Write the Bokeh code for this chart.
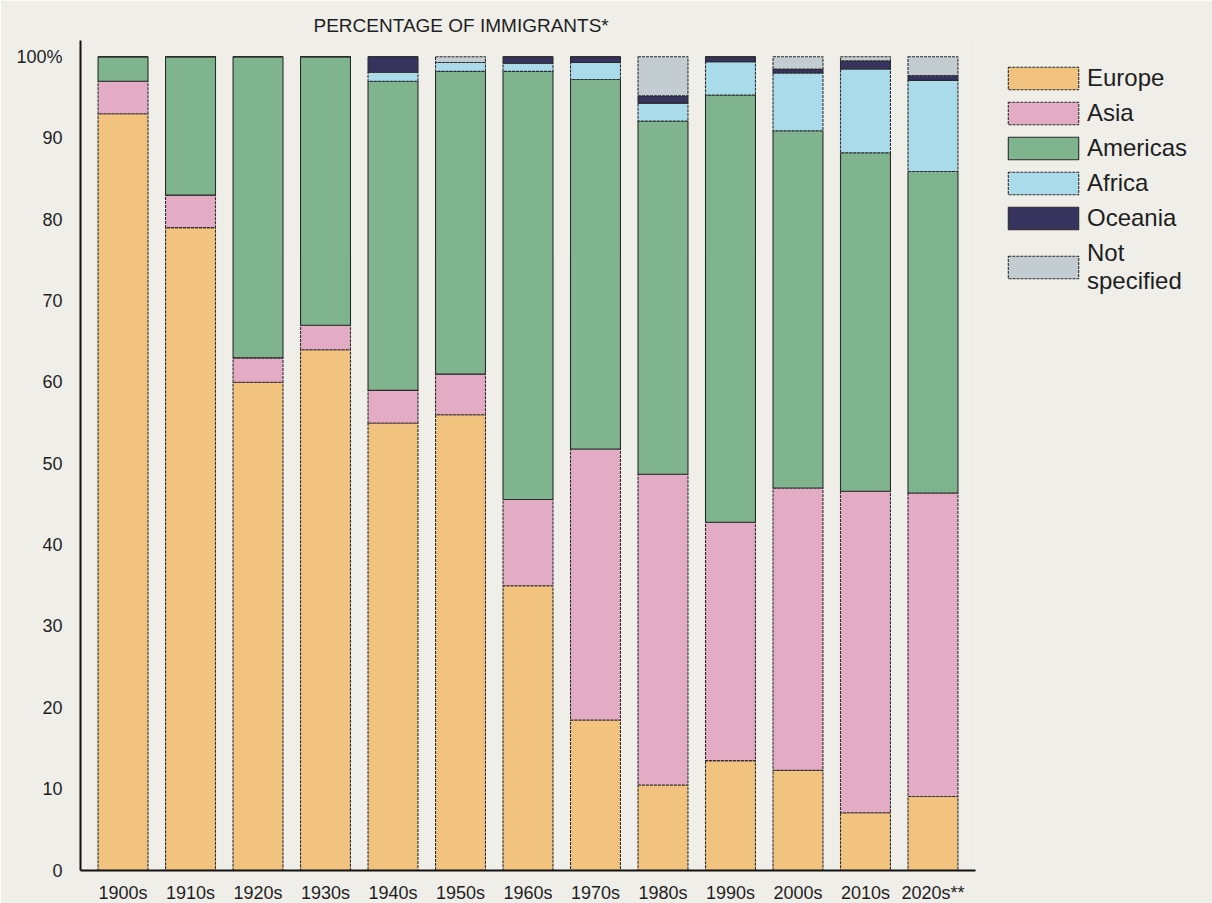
from bokeh.plotting import figure
from bokeh.models import ColumnDataSource, FactorRange, Legend, LegendItem, FixedTicker
from bokeh.transform import stack
from bokeh.embed import file_html
from bokeh.resources import INLINE

decades = ["1900s", "1910s", "1920s", "1930s", "1940s", "1950s", "1960s",
           "1970s", "1980s", "1990s", "2000s", "2010s", "2020s**"]
europe   = [93.0, 79.0, 60.0, 64.0, 55.0, 56.0, 35.0, 18.5, 10.5, 13.5, 12.3, 7.1, 9.1]
asia     = [4.0, 4.0, 3.0, 3.0, 4.0, 5.0, 10.6, 33.3, 38.2, 29.3, 34.7, 39.5, 37.3]
americas = [3.0, 17.0, 37.0, 33.0, 38.0, 37.2, 52.6, 45.4, 43.4, 52.5, 43.9, 41.6, 39.5]
africa   = [0.0, 0.0, 0.0, 0.0, 1.1, 1.1, 1.0, 2.1, 2.2, 4.1, 7.1, 10.3, 11.2]
oceania  = [0.0, 0.0, 0.0, 0.0, 1.9, 0.0, 0.8, 0.7, 0.9, 0.6, 0.5, 1.0, 0.6]
not_spec = [0.0, 0.0, 0.0, 0.0, 0.0, 0.7, 0.0, 0.0, 4.8, 0.0, 1.5, 0.5, 2.3]

series = ["Europe", "Asia", "Americas", "Africa", "Oceania", "Not specified"]
labels = ["Europe", "Asia", "Americas", "Africa", "Oceania", "Not\nspecified"]
colors = ["#f2c27f", "#e4abc5", "#7fb48e", "#a9dbea", "#37335f", "#c3ccd1"]
dashes = ["3 1", "3 1", "solid", "3 1", "solid", "3 1"]

y_ticks = [0, 10, 20, 30, 40, 50, 60, 70, 80, 90, 100]
y_tick_labels = ["0", "10", "20", "30", "40", "50", "60", "70", "80", "90", "100%"]

source = ColumnDataSource(dict(decade=decades, Europe=europe, Asia=asia,
                               Americas=americas, Africa=africa, Oceania=oceania,
                               **{"Not specified": not_spec}))

BG = "#efeee9"
FONT = "Liberation Sans"

p = figure(frame_width=895, frame_height=830,
           x_range=FactorRange(factors=decades, range_padding=0.02),
           y_range=(0, 102), output_backend="svg", toolbar_location=None,
           background_fill_color=BG, border_fill_color=BG,
           min_border_left=80, min_border_top=40, min_border_bottom=33, min_border_right=0)
p.outline_line_color = None
p.grid.visible = False

items = []
for i, (name, lab) in enumerate(zip(series, labels)):
    r = p.vbar(x="decade", width=0.74,
               bottom=stack(*series[:i]) if i > 0 else 0,
               top=stack(*series[:i + 1]),
               source=source, fill_color=colors[i], line_color="#2b2b2b",
               line_width=1.1, line_dash=dashes[i])
    items.append(LegendItem(label=lab, renderers=[r]))

legend = Legend(items=items, location="top_left", glyph_width=88, glyph_height=28,
                spacing=7, label_standoff=0, label_text_font=FONT,
                label_text_font_size="24px", label_text_color="#1e1e1e",
                label_height=24, label_text_line_height=0.95, background_fill_alpha=0,
                border_line_color=None, margin=24, padding=0)
p.add_layout(legend, "right")

p.yaxis.ticker = FixedTicker(ticks=y_ticks)
p.yaxis.major_label_overrides = {t: l for t, l in zip(y_ticks, y_tick_labels)}
for ax in (p.xaxis, p.yaxis):
    ax.axis_line_color = "#111111"
    ax.axis_line_width = 2
    ax.major_tick_line_color = None
    ax.minor_tick_line_color = None
    ax.major_label_text_font = FONT
    ax.major_label_text_font_size = "18px"
    ax.major_label_text_color = "#1e1e1e"
p.yaxis.major_label_standoff = 12
p.xaxis.major_label_standoff = 6

p.title.text = "PERCENTAGE OF IMMIGRANTS*"
p.title.text_font = FONT
p.title.text_font_size = "19px"
p.title.text_font_style = "normal"
p.title.text_color = "#1e1e1e"
p.title.align = "left"
p.title.offset = 233

open("out.html", "w").write(file_html(p, INLINE))
